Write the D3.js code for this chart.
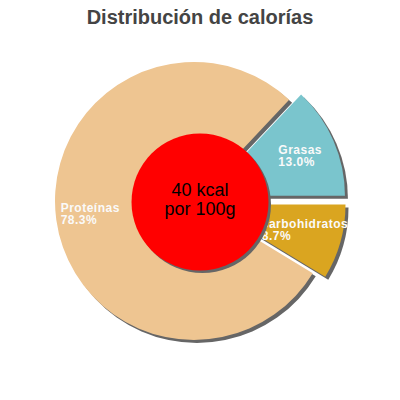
<!DOCTYPE html>
<html><head><meta charset="utf-8">
<script src="https://cdn.jsdelivr.net/npm/d3@7"></script>
<style>html,body{margin:0;padding:0;background:#fff}</style>
</head><body>
<svg id="c" width="400" height="400"></svg>
<script>
const titleText = "Distribución de calorías";
const categories = ["Grasas", "carbohidratos", "Proteínas"];
const percents = [13.0, 8.7, 78.3];
const centerLines = ["40 kcal", "por 100g"];
const colors = ["#7ac5cd", "#daa520", "#eec591"];
const explode = [13, 13, 0];

const svg = d3.select("#c");
const W = 400;
const cx = 194, cy = 201, R = 139;
const shadowOff = 3;

svg.append("text").attr("x", W / 2).attr("y", 23.5)
  .attr("text-anchor", "middle")
  .attr("font-family", "Liberation Sans, Arial, sans-serif")
  .attr("font-weight", "bold").attr("font-size", 20)
  .attr("fill", "#444").text(titleText);

const start = Math.PI / 2 - 2 * Math.PI * percents[0] / 100;
const pie = d3.pie().sort(null).value(d => d)
  .startAngle(start).endAngle(start + 2 * Math.PI);
const arcs = pie(percents);
const arc = d3.arc().innerRadius(0).outerRadius(R);

const g = svg.append("g").attr("transform", `translate(${cx},${cy})`);
function off(d, i) {
  const m = (d.startAngle + d.endAngle) / 2;
  return d3.pointRadial(m, explode[i]);
}
// shadows
g.selectAll("path.sh").data(arcs).join("path").attr("class", "sh")
  .attr("d", arc).attr("fill", "#666")
  .attr("transform", (d, i) => { const p = off(d, i); return `translate(${p[0] + shadowOff},${p[1] + shadowOff})`; });
// slices
g.selectAll("path.sl").data(arcs).join("path").attr("class", "sl")
  .attr("d", arc).attr("fill", (d, i) => colors[i])
  .attr("transform", (d, i) => { const p = off(d, i); return `translate(${p[0]},${p[1]})`; });

// center circle
const ccx = 200, ccy = 202, cr = 68.5;
svg.append("circle").attr("cx", ccx + 2.5).attr("cy", ccy + 2.5).attr("r", cr).attr("fill", "#666");
svg.append("circle").attr("cx", ccx).attr("cy", ccy).attr("r", cr).attr("fill", "#ff0000");
svg.selectAll("text.ct").data(centerLines).join("text").attr("class", "ct")
  .attr("x", ccx).attr("y", (d, i) => 196 + i * 19)
  .attr("text-anchor", "middle")
  .attr("font-family", "Liberation Sans, Arial, sans-serif")
  .attr("font-size", 18).attr("fill", "#000").text(d => d);

// labels: polar placement (angle deg, radius) from pie centre
const labelPolar = [[60.9, 96.5], [111.5, 72.8], [265.3, 133.8]];
arcs.forEach((d, i) => {
  const p = d3.pointRadial(labelPolar[i][0] * Math.PI / 180, labelPolar[i][1]);
  const t = g.append("text")
    .attr("font-family", "Liberation Sans, Arial, sans-serif")
    .attr("font-weight", "bold").attr("font-size", 12)
    .attr("letter-spacing", 0.5)
    .attr("fill", "#fafafa");
  t.append("tspan").attr("x", p[0]).attr("y", p[1]).text(categories[i]);
  t.append("tspan").attr("x", p[0]).attr("y", p[1] + 12).text(percents[i].toFixed(1) + "%");
});
</script>
</body></html>
